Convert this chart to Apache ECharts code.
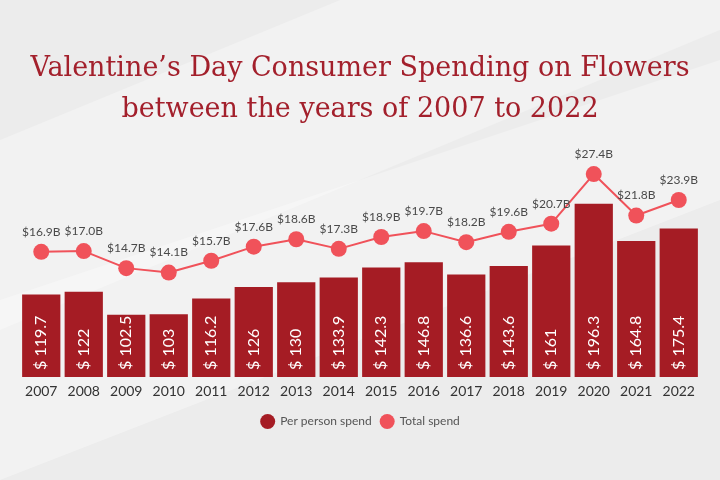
<!DOCTYPE html>
<html>
<head>
<meta charset="utf-8">
<script src="https://cdn.jsdelivr.net/npm/echarts@6/dist/echarts.min.js"></script>
<style>
html,body{margin:0;padding:0;background:#ececec;}
#chart{width:720px;height:480px;}
</style>
</head>
<body>
<div id="chart"></div>
<script>
const years = ['2007','2008','2009','2010','2011','2012','2013','2014','2015','2016','2017','2018','2019','2020','2021','2022'];
const perPersonSpend = [119.7,122,102.5,103,116.2,126,130,133.9,142.3,146.8,136.6,143.6,161,196.3,164.8,175.4];
const totalSpend = [16.9,17.0,14.7,14.1,15.7,17.6,18.6,17.3,18.9,19.7,18.2,19.6,20.7,27.4,21.8,23.9];

const chart = echarts.init(document.getElementById('chart'));
chart.setOption({
  backgroundColor: '#ececec',
  graphic: [
    {type:'polygon', silent:true, z:-10, shape:{points:[[0,300],[720,60],[720,200],[0,480]]}, style:{fill:'rgba(255,255,255,0.35)'}},
    {type:'polygon', silent:true, z:-10, shape:{points:[[0,140],[340,0],[720,0],[720,30],[0,330]]}, style:{fill:'rgba(255,255,255,0.3)'}}
  ],
  title: {
    text: 'Valentine’s Day Consumer Spending on Flowers\nbetween the years of 2007 to 2022',
    left: 'center',
    top: 43,
    textStyle: {fontFamily:'DejaVu Serif', fontSize:27, fontWeight:'normal', color:'#a3202c', lineHeight:41}
  },
  legend: {
    bottom: 46,
    left: 'center',
    icon: 'circle',
    itemWidth: 15,
    itemHeight: 15,
    itemGap: 8,
    textStyle: {fontFamily:'Lato', fontSize:12, color:'#555'},
    data: ['Per person spend','Total spend']
  },
  grid: {left:20, right:20, top:140, bottom:103},
  xAxis: {
    type:'category',
    data: years,
    axisLine:{show:false},
    axisTick:{show:false},
    axisLabel:{fontFamily:'Lato', fontSize:14, color:'#333', margin:7}
  },
  yAxis: [
    {type:'value', min:50, max:250, show:false, splitLine:{show:false}},
    {type:'value', min:0, max:32, show:false, splitLine:{show:false}}
  ],
  series: [
    {
      name:'Per person spend',
      type:'bar',
      data: perPersonSpend,
      barCategoryGap:'10%',
      itemStyle:{color:'#a51c24'},
      label:{
        show:true,
        position:'insideBottom',
        rotate:90,
        align:'left',
        verticalAlign:'middle',
        distance:7,
        formatter: p => '$ ' + p.value,
        color:'#fff',
        fontFamily:'Lato',
        fontSize:16
      }
    },
    {
      name:'Total spend',
      type:'line',
      yAxisIndex:1,
      data: totalSpend,
      symbol:'circle',
      symbolSize:16,
      lineStyle:{color:'#f0525a', width:2},
      itemStyle:{color:'#f0525a'},
      label:{
        show:true,
        position:'top',
        distance:6,
        formatter: p => '$' + p.value.toFixed(1) + 'B',
        color:'#4a4a4a',
        fontFamily:'Lato',
        fontSize:12
      }
    }
  ]
});
</script>
</body>
</html>
